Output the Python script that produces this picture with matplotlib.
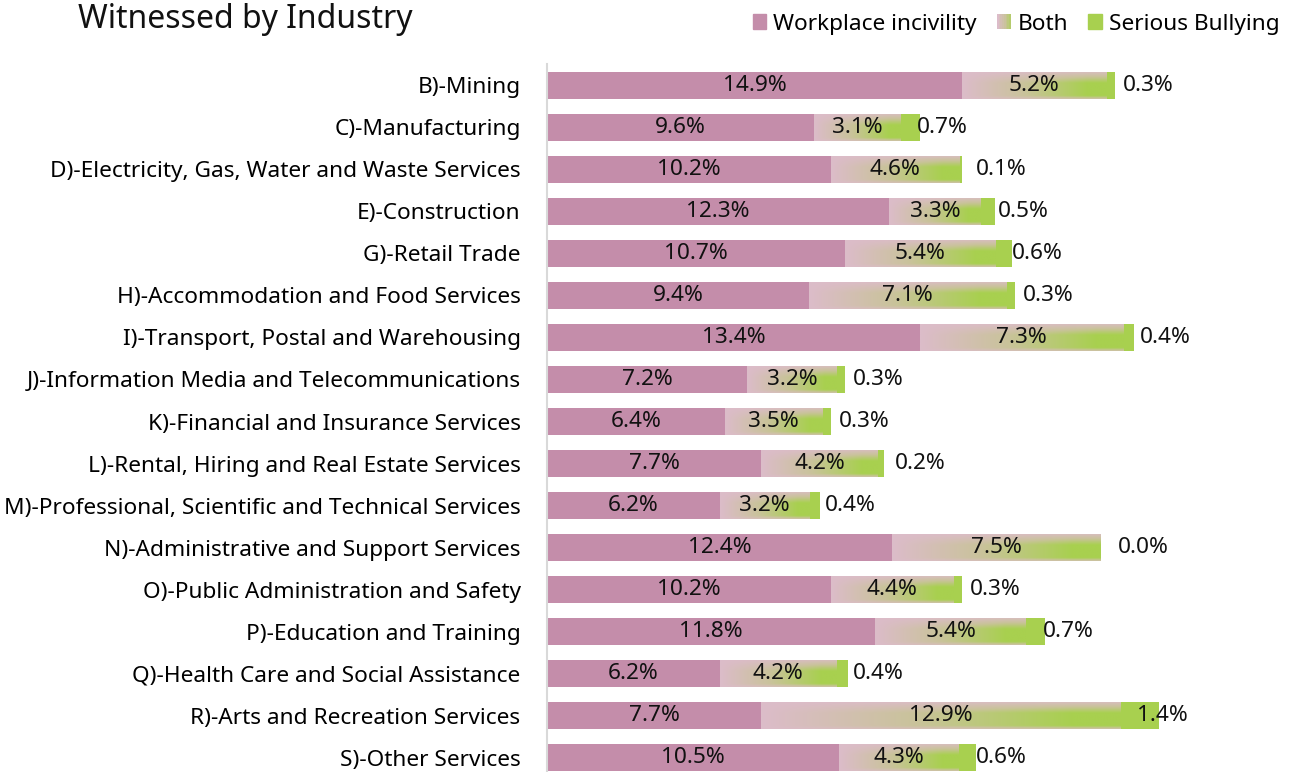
import numpy as np
import matplotlib.pyplot as plt
from matplotlib.patches import Rectangle
from matplotlib.legend_handler import HandlerBase
from matplotlib.colors import LinearSegmentedColormap

plt.rcParams['font.family'] = ['Noto Sans', 'DejaVu Sans']

industries = [
    "B)-Mining",
    "C)-Manufacturing",
    "D)-Electricity, Gas, Water and Waste Services",
    "E)-Construction",
    "G)-Retail Trade",
    "H)-Accommodation and Food Services",
    "I)-Transport, Postal and Warehousing",
    "J)-Information Media and Telecommunications",
    "K)-Financial and Insurance Services",
    "L)-Rental, Hiring and Real Estate Services",
    "M)-Professional, Scientific and Technical Services",
    "N)-Administrative and Support Services",
    "O)-Public Administration and Safety",
    "P)-Education and Training",
    "Q)-Health Care and Social Assistance",
    "R)-Arts and Recreation Services",
    "S)-Other Services",
]
incivility = [14.9, 9.6, 10.2, 12.3, 10.7, 9.4, 13.4, 7.2, 6.4, 7.7, 6.2, 12.4, 10.2, 11.8, 6.2, 7.7, 10.5]
both = [5.2, 3.1, 4.6, 3.3, 5.4, 7.1, 7.3, 3.2, 3.5, 4.2, 3.2, 7.5, 4.4, 5.4, 4.2, 12.9, 4.3]
bullying = [0.3, 0.7, 0.1, 0.5, 0.6, 0.3, 0.4, 0.3, 0.3, 0.2, 0.4, 0.0, 0.3, 0.7, 0.4, 1.4, 0.6]

PINK = "#c48daa"
GREEN = "#a8d04f"
LIGHT = "#dcbcc9"
grad_cmap = LinearSegmentedColormap.from_list("both", [LIGHT, "#c9c39a", GREEN])

# 2D gradient: pink band at top, pink->green left to right below
gx = np.linspace(0, 1, 200)
gy = np.linspace(0, 1, 40)
GX, GY = np.meshgrid(gx, gy)
vert = np.clip(GY * 2.5, 0, 1) * np.clip((1 - GY) * 6.0 + 0.3, 0, 1)
grad = np.clip(GX * 1.15, 0, 1) * (0.15 + 0.85 * vert)


class GradientHandler(HandlerBase):
    def create_artists(self, legend, orig_handle, xdescent, ydescent,
                       width, height, fontsize, trans):
        n = 8
        arts = []
        for i in range(n):
            r = Rectangle((-xdescent + i * width / n, -ydescent), width / n + 0.3, height,
                          facecolor=grad_cmap(i / (n - 1) * 0.8), edgecolor="none", transform=trans)
            arts.append(r)
        return arts


fig = plt.figure(figsize=(12.93, 7.72), dpi=100)
ax = fig.add_axes([547 / 1293, -0.009, 1 - 547 / 1293, 0.926])

y = np.arange(len(industries))
inc = np.array(incivility)
bo = np.array(both)
bu = np.array(bullying)
h = 0.64

b1 = ax.barh(y, inc, height=h, color=PINK, label="Workplace incivility")
b2 = ax.barh(y, bo, left=inc, height=h, color="none", label="Both")
b3 = ax.barh(y, bu, left=inc + bo, height=h, color=GREEN, label="Serious Bullying")

for rect in b2:
    x0, y0 = rect.get_x(), rect.get_y()
    w, hh = rect.get_width(), rect.get_height()
    im = ax.imshow(grad, cmap=grad_cmap, vmin=0, vmax=1, aspect="auto",
                   extent=(x0, x0 + w, y0 + hh, y0), origin="upper",
                   interpolation="bilinear", zorder=2)
    im.set_clip_path(rect)

fs = 16.3
for i in range(len(industries)):
    ax.text(inc[i] / 2, y[i], f"{inc[i]:.1f}%", ha="center", va="center", fontsize=fs, color="#111111", zorder=5)
    ax.text(inc[i] + bo[i] / 2, y[i], f"{bo[i]:.1f}%", ha="center", va="center", fontsize=fs, color="#111111", zorder=5)
    ax.text(inc[i] + bo[i] + 0.6, y[i], f"{bu[i]:.1f}%", ha="left", va="center", fontsize=fs, color="#111111", zorder=5)

ax.set_xlim(0, 26.8)
ax.set_ylim(len(industries) - 0.5, -0.5)
ax.set_yticks(y)
ax.set_yticklabels(industries, fontsize=fs)
ax.tick_params(axis="y", length=0, pad=19)
ax.set_xticks([])
for s in ["top", "right", "bottom"]:
    ax.spines[s].set_visible(False)
ax.spines["left"].set_color("#d9d9d9")
ax.spines["left"].set_linewidth(1.5)

fig.text(78 / 1293, 1 - 28 / 772, "Witnessed by Industry", fontsize=23, va="baseline", ha="left", color="#111111")

handles = [Rectangle((0, 0), 1, 1, color=PINK), Rectangle((0, 0), 1, 1, color=LIGHT),
           Rectangle((0, 0), 1, 1, color=GREEN)]
fig.legend(handles, ["Workplace incivility", "Both", "Serious Bullying"],
           handler_map={handles[1]: GradientHandler()},
           loc="upper right", bbox_to_anchor=(1.0, 1.0), ncol=3, frameon=False,
           fontsize=fs, handlelength=0.6, handleheight=0.6, handletextpad=0.3,
           columnspacing=0.9, borderaxespad=0.2)

fig.savefig("out.png", dpi=100)
